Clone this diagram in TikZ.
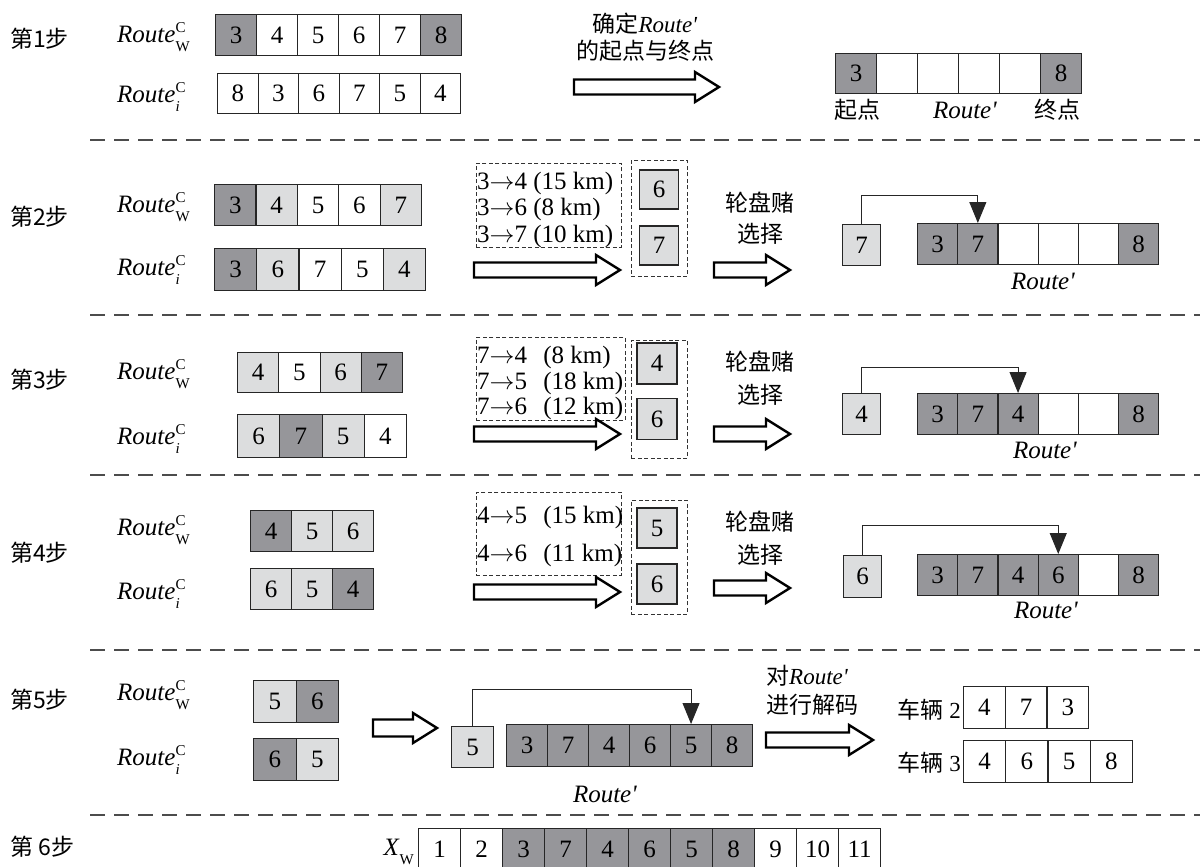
\documentclass[tikz,border=0pt]{standalone}
\usepackage{fontspec}
\setmainfont{Liberation Serif}
\newfontfamily\cjk{Noto Sans CJK SC}
\usetikzlibrary{arrows.meta}
\definecolor{D}{RGB}{150,150,154}
\definecolor{L}{RGB}{220,221,222}
\definecolor{W}{RGB}{255,255,255}
\newcommand\supsub[2]{\rlap{\raisebox{0.42em}{\fontsize{15}{15}\selectfont #1}}\raisebox{-0.34em}{\fontsize{15}{15}\selectfont #2}}
\newcommand\RW{\textit{Route}\supsub{C}{W}}
\newcommand\Ri{\textit{Route}\supsub{C}{\textit{i}}}
\newcommand\Rp{\textit{Route\textquotesingle}}
\newcommand\ar{\ensuremath{\rightarrow}}
\newcommand\cellrow[6]{\foreach[count=\k] \f/\t in {#6}{\node[cell,fill=\f,minimum width=#4pt,minimum height=#5pt] (#1-\k) at ({#2+(\k-1)*#4},#3) {\t};}}
% hollow block arrow: x1, x2, y-centre, body half height
\newcommand\barr[4]{\draw[blockarrow] ({#1},{#3-#4}) -- ({#2-24},{#3-#4}) -- ({#2-24},{#3-15}) -- ({#2},{#3}) -- ({#2-24},{#3+15}) -- ({#2-24},{#3+#4}) -- ({#1},{#3+#4}) -- cycle;}
\begin{document}
\begin{tikzpicture}[x=1pt,y=-1pt,
 cell/.style={draw=black!85,line width=1.1pt,inner sep=0pt,anchor=north west,font=\fontsize{25}{25}\selectfont},
 cn/.style={inner sep=0pt,font=\cjk\fontsize{23}{23}\selectfont},
 lt/.style={inner sep=0pt,font=\fontsize{25}{25}\selectfont},
 mix/.style={inner sep=0pt,font=\fontsize{23}{23}\selectfont},
 blockarrow/.style={draw=black,line width=2.4pt,fill=white,line join=miter},
 dbox/.style={draw=black!80,line width=0.9pt,dash pattern=on 4pt off 2.5pt,inner sep=0pt,anchor=north west},
 sep/.style={draw=black!70,line width=1.2pt,dash pattern=on 15pt off 9pt},
 conn/.style={draw=black!85,line width=1pt,-{Triangle[length=21pt,width=17pt]}},
]
\fill[white] (0,0) rectangle (1200,867);
\useasboundingbox (0,0) rectangle (1200,867);

% separators
\foreach \yy in {140,315,475,650,815} \draw[sep] (90,\yy) -- (1200,\yy);

% ---------- step 1
\node[cn,anchor=west] (s1) at (10,39) {第1步};
\node[lt,anchor=west] (l1w) at (117,37) {\RW};
\node[lt,anchor=west] (l1i) at (117,97) {\Ri};
\cellrow{a1}{215}{14}{41}{41}{D/3,W/4,W/5,W/6,W/7,D/8}
\cellrow{b1}{217}{73}{40.5}{40}{W/8,W/3,W/6,W/7,W/5,W/4}
\node[mix] (t1a) at (645,24) {{\cjk 确定}\Rp};
\node[mix] (t1b) at (645,51) {\cjk 的起点与终点};
\barr{574}{719}{87}{7.5}
\cellrow{r1}{835}{53}{41}{40}{D/3,W/{},W/{},W/{},W/{},D/8}
\node[cn] (q1) at (857,110) {起点};
\node[lt] (q2) at (965,110) {\Rp};
\node[cn] (q3) at (1057,110) {终点};

% ---------- step 2
\node[cn,anchor=west] (s2) at (10,217) {第2步};
\node[lt,anchor=west] (l2w) at (117,207) {\RW};
\node[lt,anchor=west] (l2i) at (117,270) {\Ri};
\cellrow{a2}{214}{184}{41.4}{41}{D/3,L/4,W/5,W/6,L/7}
\cellrow{b2}{214}{248}{42.2}{42}{D/3,L/6,W/7,W/5,L/4}
\node[dbox,minimum width=145pt,minimum height=84pt] (d2a) at (476,163) {};
\node[lt,anchor=west] (e2a) at (477,183) {3\ar4 (15 km)};
\node[lt,anchor=west] (e2b) at (477,209) {3\ar6 (8 km)};
\node[lt,anchor=west] (e2c) at (477,236) {3\ar7 (10 km)};
\node[dbox,minimum width=56pt,minimum height=116pt] (d2b) at (631,160) {};
\node[cell,fill=L,minimum width=39pt,minimum height=39pt,anchor=center] (c2a) at (659,189.5) {6};
\node[cell,fill=L,minimum width=39pt,minimum height=39pt,anchor=center] (c2b) at (659,245.5) {7};
\barr{474}{620}{270}{7.5}
\node[cn] (t2a) at (760,203) {轮盘赌};
\node[cn] (t2b) at (760,234) {选择};
\barr{714}{790}{270}{7.5}
\node[cell,fill=L,minimum width=38pt,minimum height=41pt] (x2) at (842,224) {7};
\cellrow{r2}{917}{223}{40.2}{41}{D/3,D/7,W/{},W/{},W/{},D/8}
\draw[conn] (x2.north) -- (x2.north |- 0,195) -| (r2-2.north);
\node[lt] (p2) at (1043,281) {\Rp};

% ---------- step 3
\node[cn,anchor=west] (s3) at (10,380) {第3步};
\node[lt,anchor=west] (l3w) at (117,374) {\RW};
\node[lt,anchor=west] (l3i) at (117,439) {\Ri};
\cellrow{a3}{237}{352}{41.25}{40}{L/4,W/5,L/6,D/7}
\cellrow{b3}{237}{414}{42.25}{43}{L/6,D/7,L/5,W/4}
\node[dbox,minimum width=149pt,minimum height=83pt] (d3a) at (476,337) {};
\node[lt,anchor=west] (e3a) at (477,357) {7\ar4\hspace{0.4em} (8 km)};
\node[lt,anchor=west] (e3b) at (477,383) {7\ar5\hspace{0.4em} (18 km)};
\node[lt,anchor=west] (e3c) at (477,408) {7\ar6\hspace{0.4em} (12 km)};
\node[dbox,minimum width=56pt,minimum height=118pt] (d3b) at (631,340) {};
\node[cell,fill=L,minimum width=40pt,minimum height=41pt,anchor=center] (c3a) at (657,363.5) {4};
\node[cell,fill=L,minimum width=40pt,minimum height=41pt,anchor=center] (c3b) at (657,419) {6};
\barr{474}{620}{434}{7.5}
\node[cn] (t3a) at (760,362) {轮盘赌};
\node[cn] (t3b) at (760,395) {选择};
\barr{714}{790}{434}{7.5}
\node[cell,fill=L,minimum width=38pt,minimum height=41pt] (x3) at (842,393) {4};
\cellrow{r3}{917}{393}{40.2}{41}{D/3,D/7,D/4,W/{},W/{},D/8}
\draw[conn] (x3.north) -- (x3.north |- 0,367) -| (r3-3.north);
\node[lt] (p3) at (1045,450) {\Rp};

% ---------- step 4
\node[cn,anchor=west] (s4) at (10,553) {第4步};
\node[lt,anchor=west] (l4w) at (117,530) {\RW};
\node[lt,anchor=west] (l4i) at (117,594) {\Ri};
\cellrow{a4}{250}{510}{41}{41}{D/4,L/5,L/6}
\cellrow{b4}{250}{568}{41}{41}{L/6,L/5,D/4}
\node[dbox,minimum width=145pt,minimum height=83pt] (d4a) at (476,492) {};
\node[lt,anchor=west] (e4a) at (477,517) {4\ar5\hspace{0.4em} (15 km)};
\node[lt,anchor=west] (e4b) at (477,555) {4\ar6\hspace{0.4em} (11 km)};
\node[dbox,minimum width=56pt,minimum height=114pt] (d4b) at (631,500) {};
\node[cell,fill=L,minimum width=40pt,minimum height=40pt,anchor=center] (c4a) at (657,528) {5};
\node[cell,fill=L,minimum width=40pt,minimum height=40pt,anchor=center] (c4b) at (657,584) {6};
\barr{474}{620}{592}{7.5}
\node[cn] (t4a) at (760,522) {轮盘赌};
\node[cn] (t4b) at (760,555) {选择};
\barr{714}{790}{588}{7.5}
\node[cell,fill=L,minimum width=38pt,minimum height=42pt] (x4) at (843,555) {6};
\cellrow{r4}{917}{554}{40.2}{41}{D/3,D/7,D/4,D/6,W/{},D/8}
\draw[conn] (x4.north) -- (x4.north |- 0,525) -| (r4-4.north);
\node[lt] (p4) at (1046,610) {\Rp};

% ---------- step 5
\node[cn,anchor=west] (s5) at (10,700) {第5步};
\node[lt,anchor=west] (l5w) at (117,695) {\RW};
\node[lt,anchor=west] (l5i) at (117,760) {\Ri};
\cellrow{a5}{253}{680}{42.5}{42}{L/5,D/6}
\cellrow{b5}{253}{738}{42.5}{42}{D/6,L/5}
\barr{373}{437}{728}{8.5}
\node[cell,fill=L,minimum width=42pt,minimum height=41pt] (x5) at (451,726) {5};
\cellrow{r5}{506}{724}{41}{42}{D/3,D/7,D/4,D/6,D/5,D/8}
\draw[conn] (x5.north) -- (x5.north |- 0,689) -| (r5-5.north);
\node[lt] (p5) at (605,794) {\Rp};
\node[mix,anchor=west] (t5a) at (766,676) {{\cjk 对}\Rp};
\node[cn,anchor=west] (t5b) at (766,705) {进行解码};
\barr{766}{873}{740}{7.5}
\node[mix,anchor=east] (v2) at (961,710) {{\cjk 车辆} 2};
\cellrow{g2}{963}{686}{41.7}{42}{W/4,W/7,W/3}
\node[mix,anchor=east] (v3) at (961,763) {{\cjk 车辆} 3};
\cellrow{g3}{963}{740}{42.2}{42}{W/4,W/6,W/5,W/8}

% ---------- step 6
\node[cn,anchor=west] (s6) at (10,847) {第 6步};
\node[lt,anchor=east] (xw) at (414,852) {\textit{X}\raisebox{-0.34em}{\fontsize{15}{15}\selectfont W}};
\cellrow{z6}{418}{828}{42}{41}{W/1,W/2,D/3,D/7,D/4,D/6,D/5,D/8,W/9,W/10,W/11}
\end{tikzpicture}
\end{document}
